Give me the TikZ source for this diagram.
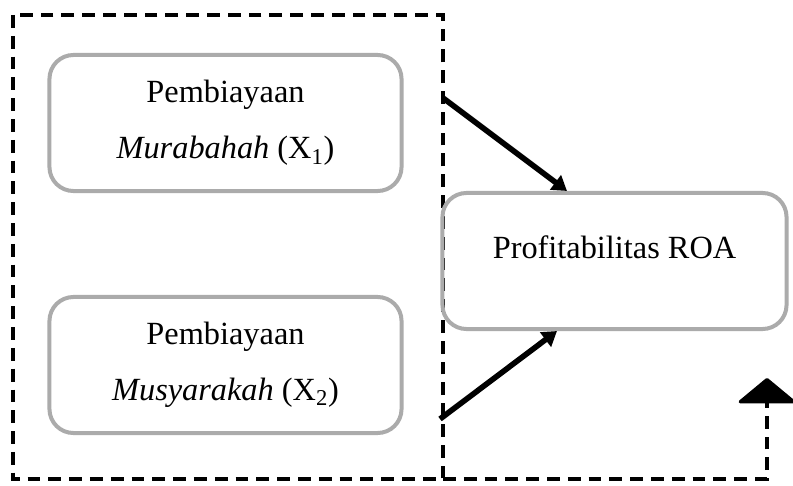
\documentclass[tikz,border=0pt]{standalone}
\usepackage{fontspec}
\setmainfont{Liberation Serif}
\usepackage{tikz}
\usetikzlibrary{arrows.meta, positioning}

\begin{document}
\begin{tikzpicture}[
    x=0.025cm, y=-0.025cm,
    var-node/.style={rectangle, rounded corners=0.6cm, draw=black!33, line width=0.1cm,
        minimum width=8.8cm, minimum height=3.4cm, align=center,
        font=\fontsize{23}{39.8}\selectfont},
    frame/.style={draw=black, line width=0.085cm, dash pattern=on 0.32cm off 0.2cm},
    link/.style={draw=black, line width=0.14cm, -{Triangle[length=0.36cm, width=0.44cm]}},
    feedback/.style={draw=black, line width=0.085cm, dash pattern=on 0.32cm off 0.2cm,
        -{Triangle[length=0.65cm, width=1.55cm, round]}}
]

    \useasboundingbox (0,0) rectangle (793,485);

    \coordinate (fNW) at (13,15);
    \coordinate (fSE) at (443,479);
    \draw[frame] (fNW) rectangle (fSE);

    \node[var-node] (x1) at (225.5,123) {Pembiayaan\\\textit{Murabahah} (X\textsubscript{1})};
    \node[var-node] (x2) at (225.5,365) {Pembiayaan\\\textit{Musyarakah} (X\textsubscript{2})};
    \node[var-node, minimum width=8.6cm, text depth=0.7cm] (y) at (614.5,261) {Profitabilitas ROA};

    \coordinate (s1) at (443,98);
    \coordinate (s2) at (440,419);
    \coordinate (fb) at (767,378);

    \draw[link] (s1) -- (567,0 |- y.north);
    \draw[link] (s2) -- (557,0 |- y.south);
    \draw[feedback] (fSE) -| (fb);

\end{tikzpicture}
\end{document}
